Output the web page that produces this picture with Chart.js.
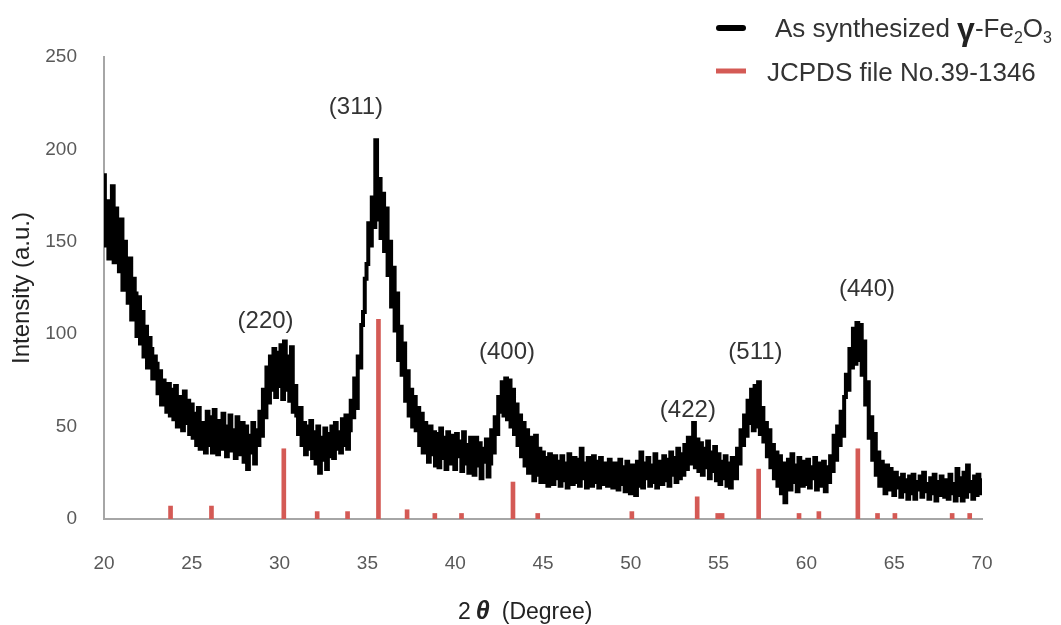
<!DOCTYPE html>
<html>
<head>
<meta charset="utf-8">
<script src="https://cdn.jsdelivr.net/npm/chart.js@4.4.0/dist/chart.umd.min.js"></script>
<style>
html,body{margin:0;padding:0;background:#fff;}
#wrap{width:1061px;height:625px;position:relative;}
</style>
</head>
<body>
<div id="wrap"><canvas id="c" width="1061" height="625"></canvas></div>
<script>
// ---- data ----
const thetaStart = 20.0;   // first 2θ of the scan
const thetaStep = 0.1;     // scan step (degree)
// measured intensity, one value per 0.1° from 20.0 to 70.0
const intensity = [
  186,148,172,141,165,180,139,168,150,134,
  162,124,150,133,117,141,108,130,122,99,
  120,95,112,88,104,82,98,92,76,88,
  84,68,80,62,75,70,58,73,56,70,
  54,72,50,66,58,48,69,52,64,46,
  62,44,57,40,60,38,52,47,36,58,
  40,55,36,59,45,35,53,38,57,42,
  34,50,56,37,48,33,55,42,35,52,
  31,50,27,45,36,52,30,48,40,58,
  45,70,55,82,63,88,70,92,66,90,
  72,94,65,96,70,88,64,93,58,72,
  56,46,60,40,52,35,50,38,53,33,
  47,30,50,25,44,32,49,27,46,34,
  50,33,52,38,47,36,54,40,56,38,
  48,64,55,76,60,88,82,105,112,130,
  138,160,148,174,158,205,162,184,152,176,
  145,168,132,150,115,136,102,122,86,104,
  78,95,64,80,56,70,50,66,48,60,
  40,57,36,52,44,31,50,35,47,29,
  46,28,49,33,44,27,47,36,30,45,
  27,46,34,42,26,47,30,40,25,44,
  36,24,44,29,41,22,38,31,43,23,
  30,48,36,55,46,66,58,74,56,76,
  54,75,50,70,46,62,40,56,34,52,
  29,48,25,44,32,21,45,24,38,20,
  36,20,33,18,35,24,19,34,22,31,
  18,34,21,30,17,35,25,19,33,20,
  32,18,38,22,30,17,33,24,18,34,
  20,31,17,33,23,19,30,18,32,21,
  17,30,22,16,32,19,28,15,31,18,
  14,29,20,13,31,18,36,17,30,22,
  33,18,29,20,35,17,31,24,19,34,
  21,32,18,36,24,33,20,38,22,35,
  24,40,27,44,30,42,52,28,43,26,
  41,24,38,28,42,22,36,26,39,21,
  35,19,31,22,34,18,30,17,33,24,
  22,38,30,48,40,56,45,64,52,70,
  48,72,50,74,46,60,42,52,34,48,
  28,40,22,36,18,34,14,30,9,26,
  32,16,35,20,29,15,33,22,18,31,
  19,32,17,28,22,33,16,30,21,18,
  31,15,28,20,34,26,45,32,50,40,
  58,45,66,78,70,92,82,103,84,106,
  86,105,78,96,62,74,44,55,32,46,
  24,36,18,31,22,14,29,16,27,19,
  13,25,17,22,12,24,15,21,11,23,
  14,24,11,20,16,23,12,25,15,19,
  11,22,14,24,10,20,13,23,16,12,
  21,11,24,14,19,10,27,13,22,10,
  25,12,29,15,20,11,23,13,24,14,
  21
];
// JCPDS 39-1346 reference lines
const refTheta = [23.79,26.12,30.24,32.14,33.87,35.63,37.26,38.84,40.36,43.29,44.70,50.06,53.78,54.95,55.20,57.28,59.58,60.71,62.93,64.05,65.04,68.30,69.30];
const refHeight = [7,7,38,4,4,108,5,3,3,20,3,4,12,3,3,27,3,4,38,3,3,3,3];
// peak (hkl) labels
const hklText = ['(220)','(311)','(400)','(422)','(511)','(440)'];
const hklTheta = [29.2,34.35,42.95,53.25,57.1,63.45];
const hklIntensity = [107,223,90,59,90,124];
// axes
const xMin = 20, xMax = 70, xStep = 5;
const yMin = 0, yMax = 250, yStep = 50;
const seriesNames = ['As synthesized', 'JCPDS file No.39-1346'];

// ---- build ----
const linePts = intensity.map((v, i) => ({x: Math.round((thetaStart + i * thetaStep) * 10) / 10, y: v}));
const barPts = refTheta.map((t, i) => ({x: t, y: refHeight[i]}));

const FONT = "'Liberation Sans', 'Helvetica Neue', Arial, sans-serif";
const RED = '#d45a55';

const annot = {
  id: 'annot',
  afterDatasetsDraw(chart) {
    const {ctx, scales: {x, y}} = chart;
    ctx.save();
    // hkl labels
    ctx.fillStyle = '#333';
    ctx.font = '24px ' + FONT;
    ctx.textAlign = 'center';
    ctx.textBaseline = 'middle';
    hklText.forEach((t, i) => ctx.fillText(t, x.getPixelForValue(hklTheta[i]), y.getPixelForValue(hklIntensity[i])));

    // legend
    ctx.lineCap = 'round';
    ctx.lineWidth = 6;
    ctx.strokeStyle = '#000';
    ctx.beginPath(); ctx.moveTo(719, 28); ctx.lineTo(743, 28); ctx.stroke();
    ctx.strokeStyle = RED;
    ctx.lineCap = 'butt';
    ctx.lineWidth = 5;
    ctx.beginPath(); ctx.moveTo(716, 71); ctx.lineTo(746, 71); ctx.stroke();

    ctx.textAlign = 'left';
    ctx.textBaseline = 'alphabetic';
    ctx.fillStyle = '#333';
    ctx.font = '26px ' + FONT;
    let px = 775, by = 37;
    ctx.fillText(seriesNames[0] + ' ', px, by);
    px += ctx.measureText(seriesNames[0] + ' ').width;
    ctx.font = 'bold 32px ' + FONT;
    ctx.fillStyle = '#222';
    ctx.fillText('γ', px, by + 3);
    px += ctx.measureText('γ').width;
    ctx.font = '26px ' + FONT;
    ctx.fillStyle = '#333';
    ctx.fillText('-Fe', px, by);
    px += ctx.measureText('-Fe').width;
    ctx.font = '16px ' + FONT;
    ctx.fillText('2', px, by + 6);
    px += ctx.measureText('2').width;
    ctx.font = '26px ' + FONT;
    ctx.fillText('O', px, by);
    px += ctx.measureText('O').width;
    ctx.font = '16px ' + FONT;
    ctx.fillText('3', px, by + 6);

    ctx.font = '26px ' + FONT;
    ctx.fillText(seriesNames[1], 767, 81);

    // x-axis title: 2θ (Degree)
    ctx.fillStyle = '#222';
    let tx = 458, ty = 619;
    ctx.font = '23px ' + FONT;
    ctx.fillText('2', tx, ty);
    tx += ctx.measureText('2').width + 5;
    ctx.font = 'italic bold 25px ' + FONT;
    ctx.fillText('θ', tx, ty);
    tx += ctx.measureText('θ').width + 12;
    ctx.font = '23px ' + FONT;
    ctx.fillText('(Degree)', tx, ty);
    ctx.restore();
  }
};

new Chart(document.getElementById('c'), {
  type: 'line',
  data: {
    datasets: [
      {
        type: 'line',
        label: 'As synthesized γ-Fe2O3',
        data: linePts,
        borderColor: '#000',
        borderWidth: 4,
        borderJoinStyle: 'miter',
        stepped: 'middle',
        pointRadius: 0,
        fill: false,
        order: 2
      },
      {
        type: 'bar',
        label: seriesNames[1],
        data: barPts,
        backgroundColor: RED,
        borderWidth: 0,
        barThickness: 4,
        order: 1
      }
    ]
  },
  options: {
    responsive: false,
    devicePixelRatio: 1,
    animation: false,
    layout: {padding: {left: 0, top: 57, right: 79, bottom: 0}},
    plugins: {legend: {display: false}, tooltip: {enabled: false}},
    scales: {
      x: {
        type: 'linear',
        min: xMin, max: xMax,
        offset: false,
        grid: {display: false, drawTicks: false},
        border: {display: true, color: '#a6a6a6', width: 2},
        ticks: {stepSize: xStep, padding: 33, color: '#595959', font: {family: FONT, size: 19}, maxRotation: 0},
        afterFit(s) { s.height = 625 - 519; }
      },
      y: {
        min: yMin, max: yMax,
        grid: {display: false, drawTicks: false},
        border: {display: true, color: '#a6a6a6', width: 2},
        ticks: {stepSize: yStep, padding: 27, color: '#595959', font: {family: FONT, size: 19}},
        title: {display: true, text: 'Intensity (a.u.)', color: '#222', font: {family: FONT, size: 24}, padding: {top: 8, bottom: 0}},
        afterFit(s) { s.width = 104; }
      }
    }
  },
  plugins: [annot]
});
</script>
</body>
</html>
